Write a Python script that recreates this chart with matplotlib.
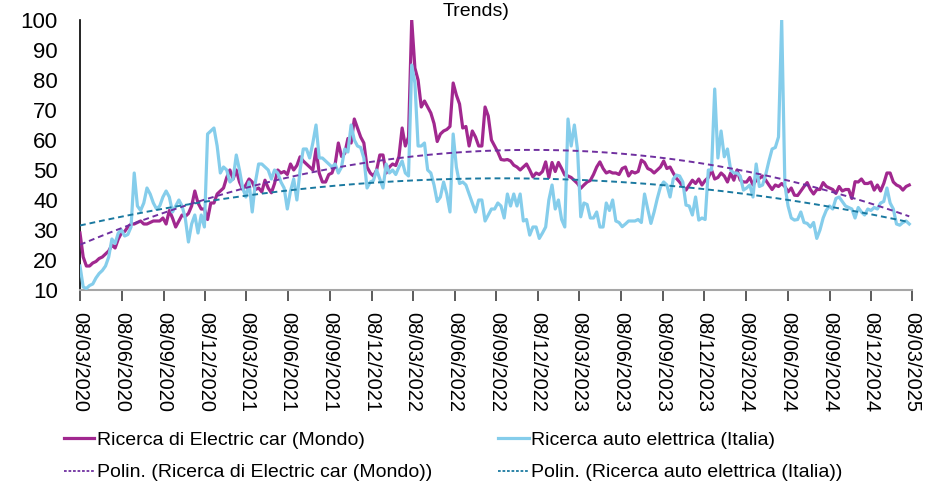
import numpy as np
import pandas as pd
import matplotlib
matplotlib.use("Agg")
import matplotlib.pyplot as plt
import matplotlib.dates as mdates
from matplotlib.lines import Line2D

# Weekly Google Trends interest (0-100), first week 08/03/2020
start_date = "2020-03-08"

mondo = [
    29, 21, 18, 18, 19, 19.5, 20.5, 21, 22, 23,
    25, 24, 27, 29, 29.5, 31, 32, 32, 32.5, 33,
    32, 32, 32.5, 33, 33, 33, 34, 32, 36.5, 34,
    31, 33, 35, 34.5, 35.5, 38, 43, 39, 37, 37,
    33.5, 39, 39, 42, 43, 44, 47.5, 50, 47, 50,
    46, 43.5, 45, 47, 46, 43.5, 44, 42.7, 46.6, 44,
    42.4, 45.5, 50, 49, 49.5, 48.5, 52, 50, 51.5, 54.4,
    53, 52, 51, 50, 57, 49, 46, 46, 48.5, 49,
    52, 59, 54.5, 55.5, 60.5, 59, 67, 64, 61, 59,
    51, 49, 48, 50, 55, 55, 49, 51, 52, 51.5,
    54.5, 64, 58, 61, 100, 84, 80, 71, 73, 71,
    69, 65.5, 59.5, 62, 63, 63.5, 64.5, 79, 75, 72,
    64, 64.5, 58, 63, 61, 58, 58, 71, 68, 60,
    58, 56, 53.5, 53.3, 53.5, 53, 51.6, 51, 50, 51,
    52, 50, 47.7, 49, 48.5, 49.5, 52.7, 47.5, 52.5, 49.5,
    52.5, 50.5, 48.3, 48, 47.5, 46.5, 45.5, 43.9, 45, 46,
    46.5, 48.5, 51, 52.7, 50.5, 49, 49.5, 49, 49, 48.5,
    50.5, 51, 48, 49.5, 49, 49.5, 53.3, 52.5, 50.5, 50,
    49, 50, 51, 53, 50.5, 51, 49, 47.2, 46, 44.5,
    43.3, 45, 46.6, 45.5, 47, 45, 46.5, 47.5, 50, 47,
    47.5, 49, 48, 46, 49, 46.6, 50, 46.6, 46, 46,
    47.5, 45, 46.6, 47.2, 48, 46.6, 45, 43.5, 45, 44.5,
    45.5, 44.5, 42.7, 44, 41.6, 41.5, 43, 44.5, 45.8, 43.5,
    42, 43.5, 43.5, 45.8, 44.5, 44, 43.5, 42.2, 44.5, 43,
    43.5, 43.5, 40.5, 46.1, 46, 47, 45.5, 45.5, 46, 43.3,
    45, 43, 45.5, 49, 49, 46, 45, 44.5, 43.3, 44.5,
    45,
]

italia = [
    18, 11, 10.5, 11.5, 12, 14, 15.5, 16.5, 18, 21,
    27, 25.5, 29, 30, 28, 28.5, 31, 49, 38, 36.5,
    39, 44, 42, 39, 37, 38, 41, 43, 41, 36,
    38, 40, 38, 34, 26, 32, 35, 29, 35, 31,
    62, 63, 64, 58, 49, 51, 50, 46, 47, 55,
    50, 44, 41, 46, 36, 46, 52, 52, 51, 50,
    47, 50, 49, 46, 44, 37, 43, 47, 40, 50,
    57, 57, 54, 59, 65, 54, 54, 53, 52, 51,
    52, 49, 51, 57, 56, 65, 60, 58, 57.5, 54,
    44, 46, 46.5, 50, 47, 44, 52, 49, 50, 48.5,
    51, 53, 49, 48, 85, 79, 58, 58, 59, 50,
    49, 45, 39.5, 41, 46, 42, 36, 62, 51, 45.5,
    46, 45, 42, 39, 36, 40, 40, 33, 35, 37,
    37, 39, 38, 34, 42, 38, 42, 38, 42, 33,
    33.5, 28.3, 31, 31, 27.2, 29, 31, 40, 45, 37,
    40, 33.5, 31, 67, 58, 65, 56.6, 34.4, 39, 38.5,
    34, 34, 36, 31, 31, 39, 36.5, 40, 33, 32.5,
    31.1, 32, 33, 33, 33, 33.5, 32.5, 42, 37, 32.2,
    36, 40.5, 44.4, 46, 45, 41, 47, 48.3, 48, 46,
    38.3, 38, 35, 41, 33.3, 34, 33.5, 50, 50, 77,
    54, 63, 54.4, 57, 50, 49, 49, 48, 43.3, 44,
    45, 41, 52, 44.5, 45, 48.5, 53, 57, 57.5, 61,
    100, 45, 38, 34, 33.3, 33.5, 36, 32.5, 32.2, 31,
    32.5, 27.2, 30, 34, 36.6, 38, 37, 40.5, 41, 39.5,
    38, 37.5, 37, 34, 37.5, 36, 35, 37, 36.5, 37.5,
    37, 39, 39.5, 44, 39, 37, 32, 31.6, 32.5, 33,
    32,
]

label_mondo = "Ricerca di Electric car (Mondo)"
label_italia = "Ricerca auto elettrica (Italia)"
label_trend_mondo = "Polin. (Ricerca di Electric car (Mondo))"
label_trend_italia = "Polin. (Ricerca auto elettrica (Italia))"
title_tail = "Trends)"

c_mondo = "#A1288F"
c_italia = "#85CDEB"
c_trend_mondo = "#7030A0"
c_trend_italia = "#1A79A0"

FONT = ["Liberation Sans", "Arial", "DejaVu Sans"]
plt.rcParams["font.family"] = FONT

dates = pd.date_range(start_date, periods=len(mondo), freq="7D")
t = np.arange(len(mondo))

# Second-order polynomial trend lines
trend_mondo = np.polyval(np.polyfit(t, mondo, 2), t)
trend_italia = np.polyval(np.polyfit(t, italia, 2), t)

W, H = 937, 495
fig = plt.figure(figsize=(W / 100, H / 100), dpi=100)
ax = fig.add_axes([80 / W, 1 - 290 / H, (912 - 80) / W, (290 - 20) / H])

ax.plot(dates, mondo, color=c_mondo, lw=2.3, solid_joinstyle="round", zorder=3)
ax.plot(dates, italia, color=c_italia, lw=2.3, solid_joinstyle="round", zorder=4)
ax.plot(dates, trend_mondo, color=c_trend_mondo, lw=1.4, ls=(0, (3, 2)), zorder=5)
ax.plot(dates, trend_italia, color=c_trend_italia, lw=1.4, ls=(0, (3, 2)), zorder=6)

ax.set_xlim(pd.Timestamp("2020-03-08"), pd.Timestamp("2025-03-08"))
ax.set_ylim(10, 100)
ax.set_yticks(np.arange(10, 101, 10))

ax.xaxis.set_major_locator(mdates.MonthLocator(bymonth=[3, 6, 9, 12], bymonthday=8))
ax.xaxis.set_major_formatter(mdates.DateFormatter("%d/%m/%Y"))

for s in ("top", "right"):
    ax.spines[s].set_visible(False)
ax.spines["left"].set_color("black")
ax.spines["left"].set_linewidth(1.2)
ax.spines["bottom"].set_color("#A6A6A6")
ax.spines["bottom"].set_linewidth(1.5)

ax.tick_params(axis="y", length=0, pad=16, labelsize=16)
ax.tick_params(axis="x", length=8, width=1.2, color="#404040", direction="out", pad=8)

for lab in ax.get_xticklabels():
    lab.set_fontsize(14.4)
    lab.set_rotation(-90)
    lab.set_ha("center")
    lab.set_va("top")

fig.text(476 / W, 1 - 16 / H, title_tail, ha="center", va="baseline", fontsize=14)

handles = [
    Line2D([], [], color=c_mondo, lw=2.3),
    Line2D([], [], color=c_trend_mondo, lw=1.3, ls=(0, (1.5, 1))),
    Line2D([], [], color=c_italia, lw=2.3),
    Line2D([], [], color=c_trend_italia, lw=1.3, ls=(0, (1.5, 1))),
]
labels = [label_mondo, label_trend_mondo, label_italia, label_trend_italia]
fig.legend(handles, labels, ncol=2, loc="upper left",
           bbox_to_anchor=(64 / W, 1 - 431 / H), frameon=False,
           fontsize=14, handlelength=1.55, handletextpad=0.15,
           columnspacing=3.4, labelspacing=0.78, borderpad=0, borderaxespad=0)

fig.savefig("out.png", dpi=100)
